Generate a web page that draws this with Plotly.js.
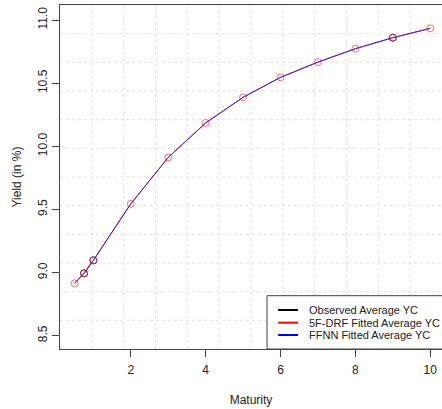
<!DOCTYPE html>
<html>
<head>
<meta charset="utf-8">
<script src="https://cdn.plot.ly/plotly-3.0.1.min.js"></script>
<style>html,body{margin:0;padding:0;background:#fff;}#chart{width:442px;height:409px;}</style>
</head>
<body>
<div id="chart"></div>
<script>
// Data
const maturity = [0.5, 0.75, 1, 2, 3, 4, 5, 6, 7, 8, 9, 10];
const observedYC = [null, 8.994, 9.097, null, null, null, null, null, null, null, 10.86, null];
const drfFitted = [8.915, 8.994, 9.097, 9.545, 9.912, 10.185, 10.388, 10.546, 10.667, 10.773, 10.86, 10.934];
const ffnnFitted = [8.915, 8.994, 9.097, 9.545, 9.912, 10.185, 10.388, 10.546, 10.667, 10.773, 10.86, 10.934];
const xTicks = [2, 4, 6, 8, 10];
const yTicks = [8.5, 9.0, 9.5, 10.0, 10.5, 11.0];
const yTickText = ['8.5', '9.0', '9.5', '10.0', '10.5', '11.0'];
const legendNames = ['Observed Average YC', '5F-DRF Fitted Average YC', 'FFNN Fitted Average YC'];
const legendColors = ['black', 'red', 'blue'];

const FONT = 'Liberation Sans, Arial, sans-serif';
const txtColor = '#222';
const axColor = '#444';

const traces = [
  {x: maturity, y: observedYC, type: 'scatter', mode: 'lines+markers', connectgaps: false,
   line: {color: 'black', width: 1},
   marker: {symbol: 'circle-open', size: 7, color: 'black', line: {width: 1, color: 'black'}},
   name: legendNames[0], showlegend: false},
  {x: maturity, y: drfFitted, type: 'scatter', mode: 'lines+markers',
   line: {color: 'red', width: 1},
   marker: {symbol: 'circle-open', size: 7, color: 'rgba(255,60,60,0.75)', line: {width: 1, color: 'rgba(255,60,60,0.75)'}},
   name: legendNames[1], showlegend: false},
  {x: maturity, y: ffnnFitted, type: 'scatter', mode: 'lines',
   line: {color: 'rgba(40,40,255,0.92)', width: 1},
   name: legendNames[2], showlegend: false}
];

const shapes = [];
for (let k = 1; k < 12; k++) {
  shapes.push({type: 'line', xref: 'paper', yref: 'paper', x0: k/12, x1: k/12, y0: 0, y1: 1,
    line: {color: '#e2e2e2', width: 1, dash: 'dot'}, layer: 'below'});
  shapes.push({type: 'line', xref: 'paper', yref: 'paper', y0: k/12, y1: k/12, x0: 0, x1: 1,
    line: {color: '#e2e2e2', width: 1, dash: 'dot'}, layer: 'below'});
}
// legend box
shapes.push({type: 'rect', xref: 'paper', yref: 'paper', x0: 0.542, x1: 1.01, y0: 0, y1: 0.155,
  line: {color: axColor, width: 1}, fillcolor: 'white', layer: 'above'});
const legY = [0.1134, 0.0765, 0.0407];
const annotations = [];
for (let i = 0; i < 3; i++) {
  shapes.push({type: 'line', xref: 'paper', yref: 'paper', x0: 0.571, x1: 0.623, y0: legY[i], y1: legY[i],
    line: {color: legendColors[i], width: 2}, layer: 'above'});
  annotations.push({xref: 'paper', yref: 'paper', x: 0.646, y: legY[i], xanchor: 'left', yanchor: 'middle',
    text: legendNames[i], showarrow: false, font: {family: FONT, size: 11, color: txtColor}});
}

const layout = {
  width: 442, height: 409,
  margin: {l: 60, r: 0, t: 5, b: 60},
  paper_bgcolor: 'white', plot_bgcolor: 'white',
  showlegend: false,
  font: {family: FONT, size: 12, color: txtColor},
  xaxis: {range: [0.108, 10.314], tickvals: xTicks, ticks: 'outside', ticklen: 7, tickwidth: 1,
    tickcolor: axColor, showline: true, linecolor: axColor, linewidth: 1, mirror: true,
    showgrid: false, zeroline: false, ticklabelstandoff: 3, tickfont: {family: FONT, size: 12, color: txtColor},
    title: {text: 'Maturity', font: {family: FONT, size: 12, color: txtColor}, standoff: 19}},
  yaxis: {range: [8.395, 11.119], tickvals: yTicks, ticktext: yTickText, tickangle: -90,
    ticks: 'outside', ticklen: 7, tickwidth: 1, tickcolor: axColor, showline: true, linecolor: axColor,
    linewidth: 1, showgrid: false, zeroline: false, tickfont: {family: FONT, size: 12, color: txtColor},
    title: {text: 'Yield (in %)', font: {family: FONT, size: 12, color: txtColor}, standoff: 12}},
  shapes: shapes,
  annotations: annotations
};

Plotly.newPlot('chart', traces, layout, {displayModeBar: false, staticPlot: true});
</script>
</body>
</html>
